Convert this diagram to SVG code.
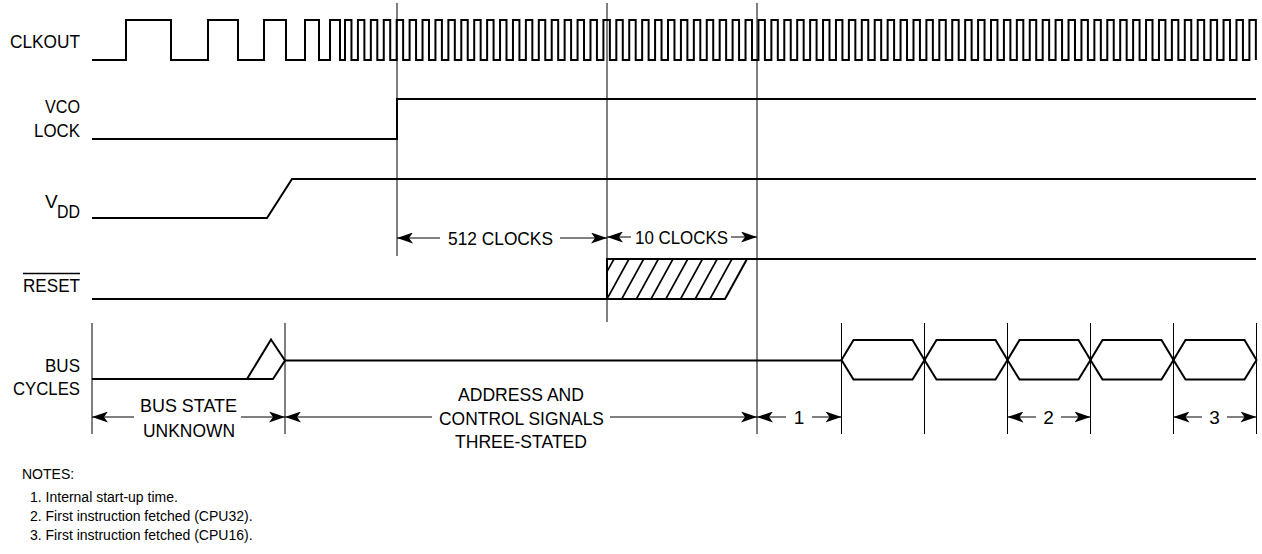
<svg xmlns="http://www.w3.org/2000/svg" width="1262" height="554" viewBox="0 0 1262 554">
<style>
text{font-family:"Liberation Sans",Arial,Helvetica,sans-serif;font-size:19px;fill:#000}
.note{font-size:14px}
.sig{fill:none;stroke:#000;stroke-width:2;stroke-linejoin:miter}
.ref{stroke:#000;stroke-width:1;fill:none}
.dim{stroke:#000;stroke-width:1;fill:none;marker-end:url(#ah)}
.hatch{stroke:#000;stroke-width:1.6;fill:none}
</style>
<defs>
<marker id="ah" viewBox="0 0 16 11" refX="16" refY="5.5" markerWidth="16" markerHeight="11" orient="auto" markerUnits="userSpaceOnUse">
<path d="M0,0 L16,5.5 L0,11 L4,5.5 Z" fill="#000"/>
</marker>
</defs>
<rect width="1262" height="554" fill="#fff"/>

<g id="reflines">
<line class="ref" x1="397" y1="3" x2="397" y2="256"/>
<line class="ref" x1="607" y1="3" x2="607" y2="322"/>
<line class="ref" x1="757" y1="3" x2="757" y2="434"/>
<line class="ref" x1="92" y1="323" x2="92" y2="434"/>
<line class="ref" x1="285" y1="323" x2="285" y2="434"/>
<line class="ref" x1="841.5" y1="323" x2="841.5" y2="434"/>
<line class="ref" x1="924.5" y1="323" x2="924.5" y2="434"/>
<line class="ref" x1="1007.5" y1="323" x2="1007.5" y2="434"/>
<line class="ref" x1="1090.5" y1="323" x2="1090.5" y2="434"/>
<line class="ref" x1="1173.5" y1="323" x2="1173.5" y2="434"/>
<line class="ref" x1="1256.5" y1="323" x2="1256.5" y2="434"/>
</g>

<g id="clkout">
<text x="10" y="48" textLength="70" lengthAdjust="spacingAndGlyphs">CLKOUT</text>
<path class="sig" d="M92,60 H126 V20 H171 V60 H208 V20 H238 V60 H264 V20 H286 V60 H305 V20 H319 V60 H330 V20 H340 V60 H345 v-40h6.46v40h6.46v-40h6.46v40h6.46v-40h6.46v40h6.46v-40h6.46v40h6.46v-40h6.46v40h6.46v-40h6.46v40h6.46v-40h6.46v40h6.46v-40h6.46v40h6.46v-40h6.46v40h6.46v-40h6.46v40h6.46 v-40h6.46v40h6.46v-40h6.46v40h6.46v-40h6.46v40h6.46v-40h6.46v40h6.46v-40h6.46v40h6.46v-40h6.46v40h6.46v-40h6.46v40h6.46v-40h6.46v40h6.46v-40h6.46v40h6.46v-40h6.46v40h6.46 v-40h6.46v40h6.46v-40h6.46v40h6.46v-40h6.46v40h6.46v-40h6.46v40h6.46v-40h6.46v40h6.46v-40h6.46v40h6.46v-40h6.46v40h6.46v-40h6.46v40h6.46v-40h6.46v40h6.46v-40h6.46v40h6.46 v-40h6.46v40h6.46v-40h6.46v40h6.46v-40h6.46v40h6.46v-40h6.46v40h6.46v-40h6.46v40h6.46v-40h6.46v40h6.46v-40h6.46v40h6.46v-40h6.46v40h6.46v-40h6.46v40h6.46v-40h6.46v40h6.46 v-40h6.46v40h6.46v-40h6.46v40h6.46v-40h6.46v40h6.46v-40h6.46v40h6.46v-40h6.46v40h6.46v-40h6.46v40h6.46v-40h6.46v40h6.46v-40h6.46v40h6.46v-40h6.46v40h6.46v-40h6.46v40h6.46 v-40h6.46v40h6.46v-40h6.46v40h6.46v-40h6.46v40h6.46v-40h6.46v40h6.46v-40h6.46v40h6.46v-40h6.46v40h6.46v-40h6.46v40h6.46v-40h6.46v40h6.46v-40h6.46v40h6.46v-40h6.46v40h6.46 v-40h6.46v40h6.46v-40h6.46v40h6.46v-40h6.46v40h6.46v-40h6.46v40h6.46v-40h6.46v40h6.46v-40h6.46v40h6.46v-40h6.46v40h6.46v-40h6.46v40h6.46v-40h6.46v40h6.46v-40h6.46v40h6.46 v-40h6.46v40"/>
</g>

<g id="vco-lock">
<text x="45" y="113" textLength="35" lengthAdjust="spacingAndGlyphs">VCO</text>
<text x="34" y="137" textLength="46" lengthAdjust="spacingAndGlyphs">LOCK</text>
<path class="sig" d="M92,139 H397 V99 H1256"/>
</g>

<g id="vdd">
<text x="45" y="208">V</text>
<text x="57" y="218" textLength="23" lengthAdjust="spacingAndGlyphs">DD</text>
<path class="sig" d="M92,218 H267 L292,179 H1256"/>
</g>

<g id="reset">
<text x="23" y="292" textLength="57" lengthAdjust="spacingAndGlyphs">RESET</text>
<line x1="23" y1="273.5" x2="80" y2="273.5" stroke="#000" stroke-width="1.5"/>
<path class="sig" d="M92,299 H725 L747,259 H1256"/>
<path class="sig" d="M607,299 V259 H747"/>
<path class="hatch" d="M607,271.7 L614,259 M607,299 L629,259 M621.7,299 L643.7,259 M636.4,299 L658.4,259 M651,299 L673,259 M665.8,299 L687.8,259 M680.5,299 L702.5,259 M695.2,299 L717.2,259 M710,299 L732,259"/>
</g>

<g id="bus-cycles">
<text x="45" y="372" textLength="35" lengthAdjust="spacingAndGlyphs">BUS</text>
<text x="13" y="395" textLength="67" lengthAdjust="spacingAndGlyphs">CYCLES</text>
<path class="sig" d="M92,379 H273 L285,360.5 L271,339.5 L247,379"/>
<path class="sig" d="M285,360.5 H841.5"/>
<path class="sig" d="M841.5,360 L853.5,340 H912.5 L924.5,360 L912.5,379.5 H853.5 Z"/>
<path class="sig" d="M924.5,360 L936.5,340 H995.5 L1007.5,360 L995.5,379.5 H936.5 Z"/>
<path class="sig" d="M1007.5,360 L1019.5,340 H1078.5 L1090.5,360 L1078.5,379.5 H1019.5 Z"/>
<path class="sig" d="M1090.5,360 L1102.5,340 H1161.5 L1173.5,360 L1161.5,379.5 H1102.5 Z"/>
<path class="sig" d="M1173.5,360 L1185.5,340 H1244.5 L1256.5,360 L1244.5,379.5 H1185.5 Z"/>
</g>

<g id="connectors">
<line class="dim" x1="440" y1="238" x2="397" y2="238"/>
<line class="dim" x1="560" y1="238" x2="607" y2="238"/>
<text x="448" y="245" textLength="105" lengthAdjust="spacingAndGlyphs">512 CLOCKS</text>
<line class="dim" x1="631" y1="237" x2="607" y2="237"/>
<line class="dim" x1="731" y1="237" x2="757" y2="237"/>
<text x="635" y="244" textLength="93" lengthAdjust="spacingAndGlyphs">10 CLOCKS</text>

<line class="dim" x1="134" y1="417" x2="92" y2="417"/>
<line class="dim" x1="241" y1="417" x2="285" y2="417"/>
<text x="140" y="412" textLength="97" lengthAdjust="spacingAndGlyphs">BUS STATE</text>
<text x="143" y="437" textLength="92" lengthAdjust="spacingAndGlyphs">UNKNOWN</text>

<line class="dim" x1="432" y1="417" x2="285" y2="417"/>
<line class="dim" x1="610" y1="417" x2="757" y2="417"/>
<text x="458" y="401" textLength="126" lengthAdjust="spacingAndGlyphs">ADDRESS AND</text>
<text x="439" y="425" textLength="165" lengthAdjust="spacingAndGlyphs">CONTROL SIGNALS</text>
<text x="455" y="448" textLength="132" lengthAdjust="spacingAndGlyphs">THREE-STATED</text>

<line class="dim" x1="786" y1="417" x2="757" y2="417"/>
<line class="dim" x1="812" y1="417" x2="841.5" y2="417"/>
<text x="799" y="424" text-anchor="middle">1</text>

<line class="dim" x1="1036" y1="417" x2="1007.5" y2="417"/>
<line class="dim" x1="1061" y1="417" x2="1090.5" y2="417"/>
<text x="1048.5" y="424" text-anchor="middle">2</text>

<line class="dim" x1="1202" y1="417" x2="1173.5" y2="417"/>
<line class="dim" x1="1227" y1="417" x2="1256.5" y2="417"/>
<text x="1214.5" y="424" text-anchor="middle">3</text>
</g>

<g id="notes">
<text class="note" x="22" y="479">NOTES:</text>
<text class="note" x="30" y="502">1. Internal start-up time.</text>
<text class="note" x="30" y="521">2. First instruction fetched (CPU32).</text>
<text class="note" x="30" y="540">3. First instruction fetched (CPU16).</text>
</g>
</svg>
